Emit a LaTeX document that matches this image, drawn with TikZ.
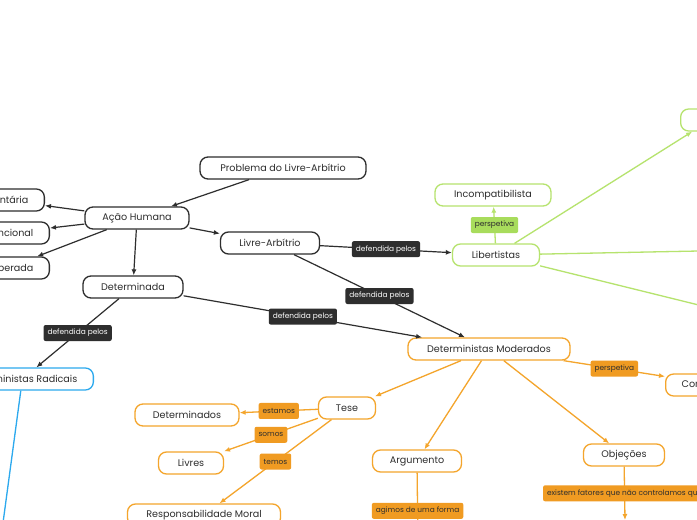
\documentclass[tikz,border=0pt]{standalone}
\usepackage{fontspec}
\setmainfont{Poppins}
\usetikzlibrary{arrows.meta}
\definecolor{ink}{HTML}{2E2E2E}
\definecolor{lime}{HTML}{B6E36E}
\definecolor{limefill}{HTML}{A8DC5C}
\definecolor{amber}{HTML}{F4A52C}
\definecolor{amberfill}{HTML}{F09B22}
\definecolor{sky}{HTML}{2CA9EE}

\tikzset{
	topic/.style={draw=ink, line width=1.3pt, rounded corners=8pt, fill=white, text=ink,
		minimum height=22pt, inner xsep=16pt, font=\fontsize{9.6}{11}\selectfont},
	limetopic/.style={topic, draw=lime},
	ambertopic/.style={topic, draw=amber},
	skytopic/.style={topic, draw=sky},
	link/.style={fill=ink, rounded corners=2pt, text=white, inner xsep=4pt,
		minimum height=16pt, font=\fontsize{7.4}{9}\selectfont},
	limelink/.style={link, fill=limefill, text=ink},
	amberlink/.style={link, fill=amberfill, text=ink},
	edge/.style={draw=ink, line width=1.2pt, -{Latex[length=6pt,width=5pt]}},
	limeedge/.style={edge, draw=lime, fill=lime, line width=1.3pt},
	amberedge/.style={edge, draw=amber, fill=amber, line width=1.3pt},
	skyedge/.style={edge, draw=sky, fill=sky, line width=1.3pt}
}

\begin{document}
\begin{tikzpicture}[x=1pt, y=-1pt]
	\useasboundingbox (0,0) rectangle (697,520);
	\clip (0,0) rectangle (697,520);
	\fill[white] (0,0) rectangle (697,520);

	\node[topic, minimum width=166pt] (prob) at (283,168) {Problema do Livre-Arbítrio};	% root
	\node[topic, minimum width=104pt] (acao) at (137,218) {Ação Humana};
	\node[topic, anchor=east] (vol) at (45,200) {Voluntária};
	\node[topic, anchor=east] (inte) at (50,233) {Intencional};
	\node[topic, anchor=east] (deli) at (50,268) {Deliberada};
	\node[topic, minimum width=99pt] (livre) at (270,243) {Livre-Arbítrio};
	\node[topic, minimum width=100pt] (deter) at (133,287) {Determinada};

	\node[limetopic, minimum width=87pt] (lib) at (496,255) {Libertistas};	% libertistas
	\node[limetopic, minimum width=116pt] (incomp) at (493,195) {Incompatibilista};
	\node[limetopic, anchor=west, minimum width=60pt] (libtop) at (680,120) {};
	\coordinate (libright) at (800,249);
	\coordinate (liblow) at (800,330);

	\node[skytopic, anchor=east] (rad) at (94,379) {Deterministas Radicais};	% radicais
	\coordinate (radend) at (-2,560);

	\node[ambertopic, minimum width=162pt] (mod) at (489,349) {Deterministas Moderados};	% moderados
	\node[ambertopic, anchor=west] (comp) at (665,385) {Compatibilistas};
	\node[ambertopic, minimum width=57pt] (tese) at (347,408) {Tese};
	\node[ambertopic, minimum width=104pt] (detdos) at (187,415) {Determinados};
	\node[ambertopic, minimum width=65pt] (livres) at (191,463) {Livres};
	\node[ambertopic, minimum width=153pt] (resp) at (204,515) {Responsabilidade Moral};
	\node[ambertopic, minimum width=89pt] (arg) at (417,461) {Argumento};
	\node[ambertopic, minimum width=81pt] (obj) at (624,455) {Objeções};
	\coordinate (argend) at (418,549);
	\coordinate (objend) at (625,520);

	\draw[edge] (prob) -- (acao);	% connectors
	\draw[edge] (acao) -- (vol);
	\draw[edge] (acao) -- (inte);
	\draw[edge] (acao) -- (deli);
	\draw[edge] (acao) -- (livre);
	\draw[edge] (acao) -- (deter);
	\draw[edge] (livre) -- node[link] {defendida pelos} (lib);
	\draw[edge] (livre) -- node[link] {defendida pelos} (mod);
	\draw[edge] (deter) -- node[link] {defendida pelos} (mod);
	\draw[edge] (deter) -- node[link] {defendida pelos} (rad);

	\draw[limeedge] (lib) -- node[limelink] {perspetiva} (incomp);
	\draw[limeedge] (lib) -- (libtop);
	\draw[limeedge] (lib) -- (libright);
	\draw[limeedge] (lib) -- (liblow);

	\draw[skyedge] (rad) -- (radend);

	\draw[amberedge] (mod) -- node[amberlink] {perspetiva} (comp);
	\draw[amberedge] (mod) -- (tese);
	\draw[amberedge] (mod) -- (arg);
	\draw[amberedge] (mod) -- (obj);
	\draw[amberedge] (tese) -- node[amberlink] {estamos} (detdos);
	\draw[amberedge] (tese) -- node[amberlink] {somos} (livres);
	\draw[amberedge] (tese) -- node[amberlink] {temos} (resp);
	\draw[amberedge] (arg) -- node[amberlink] {agimos de uma forma} (argend);
	\draw[amberedge] (obj) -- node[amberlink] {existem fatores que não controlamos que} (objend);
\end{tikzpicture}
\end{document}
